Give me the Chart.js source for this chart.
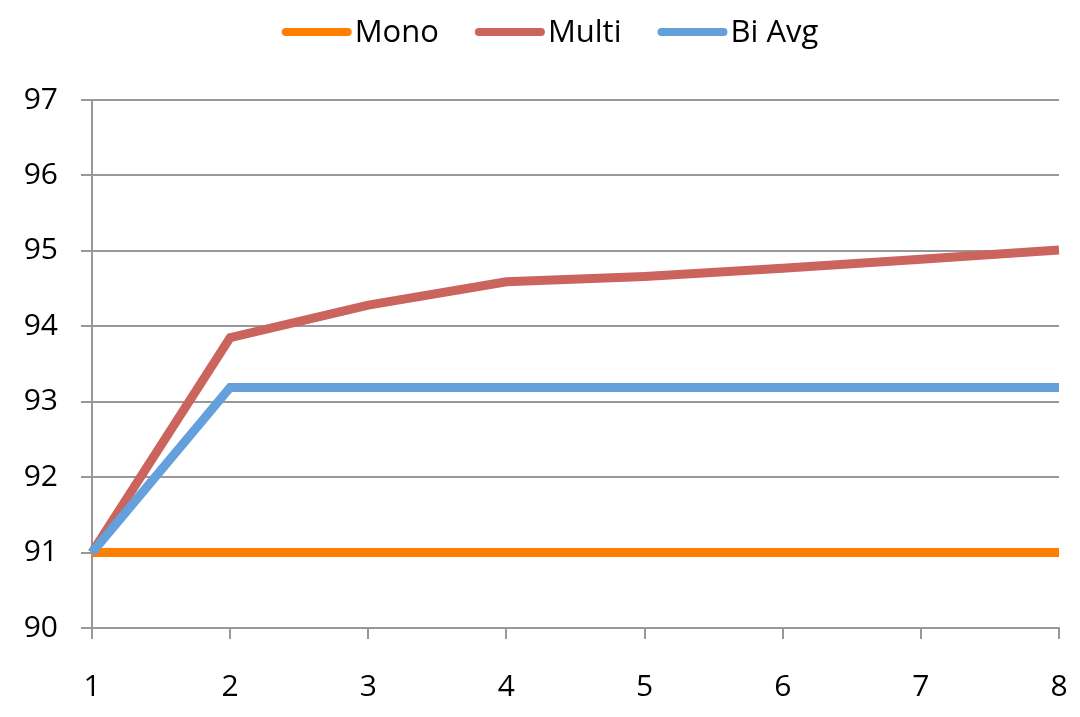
<!DOCTYPE html>
<html>
<head>
<meta charset="utf-8">
<script src="https://cdn.jsdelivr.net/npm/chart.js@4/dist/chart.umd.min.js"></script>
<style>
  html, body { margin: 0; padding: 0; background: #ffffff; }
  #wrap { width: 1080px; height: 717px; }
</style>
</head>
<body>
<div id="wrap"><canvas id="c" width="1080" height="717"></canvas></div>
<script>
// x categories (steps) and the three series
const steps  = ['1', '2', '3', '4', '5', '6', '7', '8'];
const mono   = [91.0, 91.0, 91.0, 91.0, 91.0, 91.0, 91.0, 91.0];
const multi  = [91.0, 93.85, 94.28, 94.59, 94.66, 94.77, 94.89, 95.01];
const biAvg  = [91.0, 93.19, 93.19, 93.19, 93.19, 93.19, 93.19, 93.19];
const seriesNames = ['Mono', 'Multi', 'Bi Avg'];
const yTicks = [90, 91, 92, 93, 94, 95, 96, 97];

const FONT = '"Open Sans", "Liberation Sans", sans-serif';
const GRID = '#989898';
const colors = ['#ff7f00', '#cb645c', '#64a0dc'];

// legend drawn as line samples followed by the series name
const lineLegend = {
  id: 'lineLegend',
  afterDraw(chart) {
    const ctx = chart.ctx;
    ctx.save();
    ctx.font = '31px ' + FONT;
    ctx.textBaseline = 'middle';
    ctx.textAlign = 'left';
    const sample = 62, gapText = 3, gapItem = 36, y = 32;
    const items = chart.data.datasets.map(ds => ({
      label: ds.label, color: ds.borderColor, w: ctx.measureText(ds.label).width
    }));
    const total = items.reduce((s, it) => s + 4 + sample + 4 + gapText + it.w, 0) + gapItem * (items.length - 1);
    let x = 550 - total / 2;
    items.forEach(it => {
      ctx.strokeStyle = it.color;
      ctx.lineWidth = 8;
      ctx.lineCap = 'round';
      ctx.beginPath();
      ctx.moveTo(x + 4, y);
      ctx.lineTo(x + 4 + sample, y);
      ctx.stroke();
      x += 4 + sample + 4 + gapText;
      ctx.fillStyle = '#000000';
      ctx.fillText(it.label, x, y + 1);
      x += it.w + gapItem;
    });
    ctx.restore();
  }
};

const values = [mono, multi, biAvg];
const datasets = seriesNames.map((name, i) => ({
  label: name,
  data: values[i],
  borderColor: colors[i],
  backgroundColor: colors[i],
  borderWidth: 9,
  borderJoinStyle: 'miter',
  borderCapStyle: 'butt',
  pointRadius: 0,
  pointHoverRadius: 0,
  tension: 0,
  fill: false,
  order: seriesNames.length - i
}));

new Chart(document.getElementById('c'), {
  type: 'line',
  data: { labels: steps, datasets },
  plugins: [lineLegend],
  options: {
    responsive: false,
    animation: false,
    devicePixelRatio: 1,
    layout: { padding: { top: 100, right: 21, bottom: 0, left: 0 } },
    plugins: {
      legend: { display: false },
      tooltip: { enabled: false }
    },
    scales: {
      x: {
        type: 'category',
        offset: false,
        afterFit(scale) {
          scale.height = 89;
          scale.paddingLeft = 0;
          scale.paddingRight = 0;
        },
        grid: {
          drawOnChartArea: false,
          drawTicks: true,
          tickLength: 11,
          color: GRID,
          lineWidth: 2
        },
        border: { display: true, color: GRID, width: 2 },
        ticks: {
          color: '#000000',
          font: { family: FONT, size: 30 },
          padding: 30,
          maxRotation: 0,
          autoSkip: false
        }
      },
      y: {
        min: yTicks[0],
        max: yTicks[yTicks.length - 1],
        afterFit(scale) {
          scale.width = 92;
          scale.paddingTop = 0;
          scale.paddingBottom = 0;
        },
        afterBuildTicks(scale) { scale.ticks = yTicks.map(v => ({ value: v })); },
        grid: {
          drawOnChartArea: true,
          drawTicks: true,
          tickLength: 11,
          color: GRID,
          lineWidth: 2
        },
        border: { display: true, color: GRID, width: 2 },
        ticks: {
          color: '#000000',
          font: { family: FONT, size: 30 },
          padding: 23
        }
      }
    }
  }
});
</script>
</body>
</html>
